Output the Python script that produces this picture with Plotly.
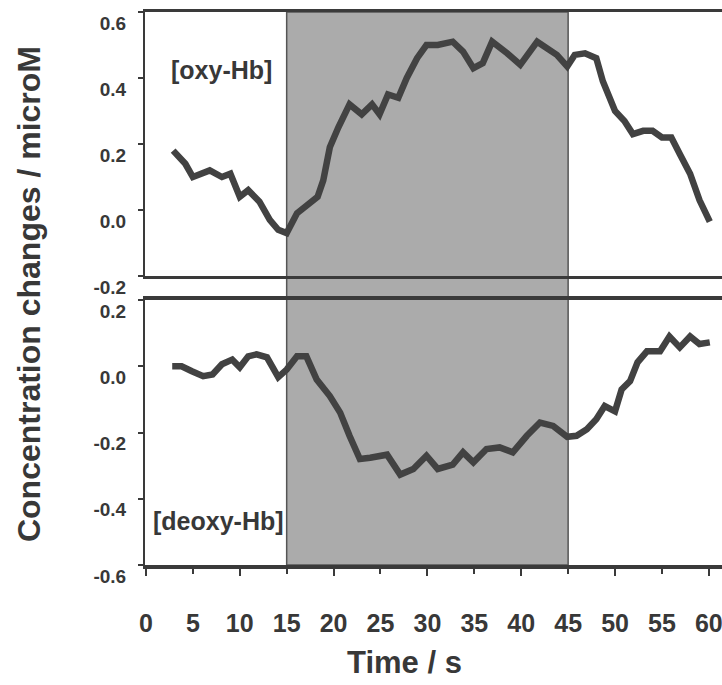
import plotly.graph_objects as go

# ---------------- data ----------------
oxy_t = [2.9, 3.6, 4.2, 5.0, 5.8, 6.8, 8.1, 9.0, 10.0, 10.9, 12.1, 13.2, 14.1, 15.0,
         16.1, 17.1, 18.3, 18.9, 19.6, 20.5, 21.7, 23.0, 24.1, 24.9, 25.8, 26.9, 27.8,
         28.9, 29.9, 31.1, 32.7, 33.8, 34.9, 35.9, 36.9, 38.5, 39.9, 41.7, 42.7, 43.8,
         44.9, 45.7, 46.8, 48.0, 48.7, 49.5, 50.0, 51.0, 51.9, 53.0, 54.0, 55.0, 56.0,
         56.9, 58.0, 59.0, 60.1]
oxy_v = [0.18, 0.16, 0.14, 0.10, 0.11, 0.12, 0.10, 0.11, 0.04, 0.06, 0.025, -0.03, -0.06, -0.07,
         -0.01, 0.015, 0.04, 0.09, 0.19, 0.25, 0.32, 0.29, 0.32, 0.29, 0.35, 0.34, 0.40,
         0.46, 0.50, 0.50, 0.51, 0.48, 0.43, 0.445, 0.51, 0.475, 0.44, 0.51, 0.49, 0.47,
         0.435, 0.47, 0.475, 0.46, 0.39, 0.34, 0.30, 0.27, 0.23, 0.24, 0.24, 0.22, 0.22,
         0.17, 0.11, 0.03, -0.035]

deoxy_t = [2.8, 3.8, 4.9, 6.1, 7.1, 8.1, 9.2, 10.0, 10.9, 11.8, 12.9, 14.1, 15.0, 16.1,
           17.1, 18.2, 19.6, 20.7, 21.7, 22.8, 23.9, 25.7, 27.1, 28.5, 29.9, 31.1, 32.7,
           33.8, 34.9, 36.3, 37.7, 39.1, 40.6, 42.0, 43.4, 44.9, 45.9, 47.0, 48.0, 48.9,
           50.0, 50.7, 51.6, 52.4, 53.4, 54.8, 55.8, 56.9, 58.0, 59.0, 60.1]
deoxy_v = [0.0, 0.0, -0.015, -0.03, -0.025, 0.006, 0.02, -0.003, 0.03, 0.036, 0.027, -0.033, -0.01, 0.03,
           0.03, -0.04, -0.09, -0.14, -0.21, -0.28, -0.276, -0.267, -0.327, -0.31, -0.27, -0.31, -0.297,
           -0.26, -0.29, -0.25, -0.245, -0.26, -0.21, -0.17, -0.18, -0.213, -0.21, -0.19, -0.16, -0.12,
           -0.136, -0.07, -0.045, 0.012, 0.045, 0.045, 0.09, 0.057, 0.09, 0.067, 0.072]

stim_window = [15, 45]
x_ticks = [0, 5, 10, 15, 20, 25, 30, 35, 40, 45, 50, 55, 60]
x_major = [0, 10, 20, 30, 40, 50, 60]
top_ticks = [0.6, 0.4, 0.2, 0.0, -0.2]
top_ticktext = ["0.6", "0.4", "0.2", "0.0", "-0.2"]
bot_ticks = [0.2, 0.0, -0.2, -0.4, -0.6]
bot_ticktext = ["0.2", "0.0", "-0.2", "-0.4", "-0.6"]

# ---------------- style ----------------
FONT = "Liberation Sans, Arial, sans-serif"
TXT = "#383838"
LINE = "#424242"
FRAME = "#3a3a3a"

fig = go.Figure()
fig.add_trace(go.Scatter(x=oxy_t, y=oxy_v, mode="lines", xaxis="x2", yaxis="y",
                         line=dict(color=LINE, width=6.5), hoverinfo="skip"))
fig.add_trace(go.Scatter(x=deoxy_t, y=deoxy_v, mode="lines", xaxis="x", yaxis="y2",
                         line=dict(color=LINE, width=6.5), hoverinfo="skip"))
fig.add_trace(go.Scatter(x=[], y=[], xaxis="x3", yaxis="y2", showlegend=False))

fig.add_shape(type="rect", xref="x", yref="paper", x0=stim_window[0], x1=stim_window[1],
              y0=0, y1=1, fillcolor="#ababab", line=dict(color="#555555", width=1.5),
              layer="below")

xr = [-0.1, 61.4]
top_dom = [0.5226, 1.0]
bot_dom = [0.0, 0.4792]

yfont = dict(size=19, family=FONT, color=TXT, weight="bold")

fig.update_layout(
    width=722, height=685,
    margin=dict(l=145, r=0, t=12, b=120, autoexpand=False),
    paper_bgcolor="white", plot_bgcolor="rgba(0,0,0,0)",
    showlegend=False,
    font=dict(family=FONT, color=TXT, weight="bold"),
    xaxis=dict(domain=[0, 1], anchor="y2", range=xr, tickvals=x_ticks,
               ticktext=[str(v) for v in x_ticks],
               ticks="outside", ticklen=5, tickwidth=2, tickcolor=FRAME,
               showline=True, linewidth=3.5, linecolor=FRAME, mirror=True,
               showgrid=False, zeroline=False, automargin=False,
               tickfont=dict(size=25, family=FONT, color=TXT, weight="bold"),
               ticklabelstandoff=28, ticklabeloverflow="allow"),
    xaxis3=dict(overlaying="x", anchor="y2", matches="x", range=xr, tickvals=x_major,
                ticks="outside", ticklen=10, tickwidth=2, tickcolor=FRAME,
                showticklabels=False, showline=False, showgrid=False, zeroline=False,
                automargin=False),
    xaxis2=dict(domain=[0, 1], anchor="y", matches="x", range=xr,
                showticklabels=False, ticks="",
                showline=True, linewidth=3, linecolor=FRAME, mirror=True,
                showgrid=False, zeroline=False, automargin=False),
    yaxis=dict(domain=top_dom, anchor="x2", range=[-0.2, 0.6],
               tickvals=top_ticks, ticktext=top_ticktext,
               ticks="outside", ticklen=5, tickwidth=2, tickcolor=FRAME,
               showline=True, linewidth=2, linecolor=FRAME,
               showgrid=False, zeroline=False, automargin=False,
               tickfont=yfont, ticklabelshift=11, ticklabelstandoff=8,
               ticklabeloverflow="allow"),
    yaxis2=dict(domain=bot_dom, anchor="x", range=[-0.6, 0.2],
                tickvals=bot_ticks, ticktext=bot_ticktext,
                ticks="outside", ticklen=5, tickwidth=2, tickcolor=FRAME,
                showline=True, linewidth=2, linecolor=FRAME,
                showgrid=False, zeroline=False, automargin=False,
                tickfont=yfont, ticklabelshift=11, ticklabelstandoff=8,
                ticklabeloverflow="allow"),
)

fig.add_annotation(text="[oxy-Hb]", xref="x2", yref="y", x=8.1, y=0.424,
                   showarrow=False, font=dict(size=25, family=FONT, color=TXT, weight="bold"))
fig.add_annotation(text="[deoxy-Hb]", xref="x", yref="y2", x=7.7, y=-0.467,
                   showarrow=False, font=dict(size=25, family=FONT, color=TXT, weight="bold"))
fig.add_annotation(text="Time / s", xref="paper", yref="paper", x=0.449, y=-0.176,
                   xanchor="center", yanchor="middle", showarrow=False,
                   font=dict(size=31, family=FONT, color=TXT, weight="bold"))
fig.add_annotation(text="Concentration changes / microM", xref="paper", yref="paper",
                   x=-0.201, y=0.49, textangle=-90, xanchor="center", yanchor="middle",
                   showarrow=False, font=dict(size=32, family=FONT, color=TXT, weight="bold"))

fig.write_html("out.html")
